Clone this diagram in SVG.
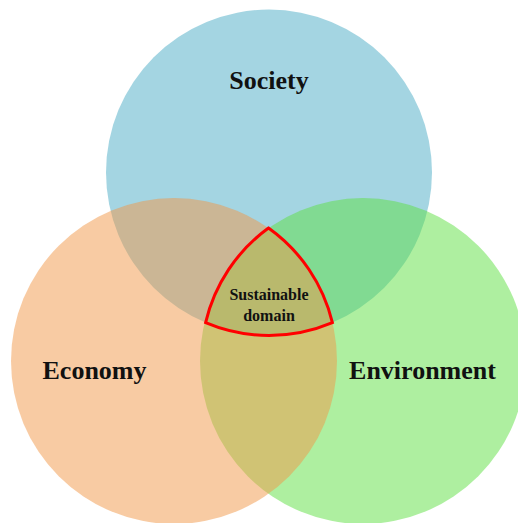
<svg xmlns="http://www.w3.org/2000/svg" width="518" height="523" viewBox="0 0 518 523">
<style>
.c{opacity:0.5}
.lbl{font-family:"Liberation Serif","DejaVu Serif",serif;font-weight:bold;fill:#111;text-anchor:middle}
.big{font-size:26px}
.small{font-size:16px}
</style>
<rect width="518" height="523" fill="#ffffff"/>
<g id="society"><circle class="c" cx="269" cy="172.5" r="163" fill="#49abc5"/></g>
<g id="environment"><circle class="c" cx="363" cy="361" r="163" fill="#5ddf41"/></g>
<g id="economy"><circle class="c" cx="174" cy="361" r="163" fill="#f19747"/></g>
<g id="sustainable">
<path d="M268.5 228 A163 163 0 0 0 205.6 322.6 A163 163 0 0 0 332.4 322.6 A163 163 0 0 0 268.5 228 Z" fill="none" stroke="#ff0000" stroke-width="3" stroke-linejoin="miter"/>
<text class="lbl small" x="269" y="299.5">Sustainable</text>
<text class="lbl small" x="269" y="320.5">domain</text>
</g>
<g id="labels">
<text class="lbl big" x="269" y="89">Society</text>
<text class="lbl big" x="94.5" y="379">Economy</text>
<text class="lbl big" x="422.5" y="379">Environment</text>
</g>
<g id="connectors"></g>
</svg>
